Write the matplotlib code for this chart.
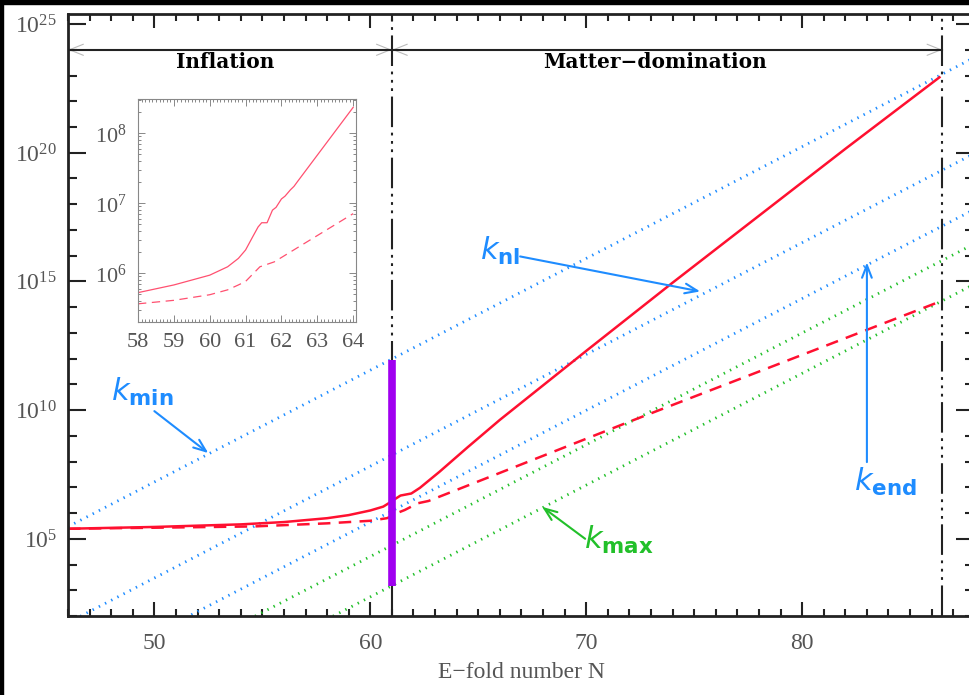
import matplotlib
matplotlib.use('Agg')
import matplotlib.pyplot as plt
import numpy as np
from matplotlib.ticker import FixedLocator, FuncFormatter, MultipleLocator, LogLocator, NullFormatter

plt.rcParams['mathtext.fontset'] = 'custom'
plt.rcParams['mathtext.rm'] = 'Liberation Serif'
plt.rcParams['mathtext.it'] = 'DejaVu Sans:italic'
plt.rcParams['mathtext.bf'] = 'DejaVu Sans:bold'
plt.rcParams['lines.scale_dashes'] = False

# main curves, log10 of the values
N_solid = [46, 50, 54, 56, 58, 59, 60, 60.6, 60.85, 61.1, 61.4, 61.9, 62.3, 63.2, 64.5, 66, 70, 74, 78, 82, 86.36]
logk_solid = [5.39, 5.46, 5.56, 5.65, 5.8, 5.92, 6.1, 6.25, 6.38, 6.52, 6.68, 6.76, 6.98, 7.6, 8.55, 9.62, 12.3, 14.95, 17.55, 20.15, 22.93]

N_dashed = [46, 50, 54.6, 58, 60, 60.77, 61.0, 61.3, 61.6, 62.2, 62.7, 66, 72, 81.4, 86.3]
logk_dashed = [5.39, 5.43, 5.48, 5.6, 5.7, 5.8, 5.88, 6.02, 6.12, 6.38, 6.47, 7.56, 9.55, 12.6, 14.19]

# inset (zoom around the end of inflation)
N_inset_solid = [58, 59, 60, 60.5, 60.8, 61.0, 61.2, 61.35, 61.45, 61.6, 61.75, 61.85, 62.0, 62.1, 62.25, 62.35, 62.45, 64.0]
logk_inset_solid = [5.72, 5.83, 5.97, 6.09, 6.21, 6.33, 6.52, 6.66, 6.72, 6.72, 6.9, 6.94, 7.06, 7.1, 7.19, 7.24, 7.31, 8.37]
N_inset_dashed = [58, 59, 60, 60.5, 60.8, 61.0, 61.4, 61.8, 64.0]
logk_inset_dashed = [5.56, 5.61, 5.69, 5.76, 5.83, 5.88, 6.09, 6.16, 6.85]

# straight reference scales k ~ a, given by the N where they cross 10^2 (log10 e per e-fold)
N_blue0 = [46 - (5.47 - 2) / np.log10(np.e), 46.6, 51.6]
N_green0 = [54.68, 58.29]

N_end_infl = 61.0
N_end_md = 86.5
bar_N = 61.0
bar_logk = [3.18, 11.94]

red = '#ff1030'
blue = '#1e8cff'
green = '#22c02a'
purple = '#a000f0'
gray_txt = '#555555'

fig = plt.figure(figsize=(9.69, 6.95), dpi=100)
ax = fig.add_axes([68 / 969, 79 / 695, 906 / 969, 602 / 695])

xlo, xhi = 46, 87.96
ax.set_xlim(xlo, xhi)
ax.set_yscale('log')
ax.set_ylim(1e2, 10 ** 25.39)

xx = np.array([xlo, xhi])
for n0 in N_blue0:
    ax.plot(xx, 10 ** (2 + (xx - n0) * np.log10(np.e)), color=blue, lw=2, ls=(0, (1, 4)))
for n0 in N_green0:
    ax.plot(xx, 10 ** (2 + (xx - n0) * np.log10(np.e)), color=green, lw=2, ls=(0, (1, 4)))

ax.plot(N_solid, 10 ** np.array(logk_solid), color=red, lw=1.8)
ax.plot(N_dashed, 10 ** np.array(logk_dashed), color=red, lw=1.8, ls=(0, (9, 6)))

ax.plot([bar_N, bar_N], 10 ** np.array(bar_logk), color=purple, lw=5.5, solid_capstyle='butt', zorder=5)

for xv in [N_end_infl, N_end_md]:
    ax.axvline(xv, color='#222222', lw=1.5, ls=(0, (22, 4, 2, 4, 2, 4, 2, 4)), zorder=4)

# phase arrows
for a, b in [(46, N_end_infl), (N_end_infl, N_end_md)]:
    ax.annotate('', xy=(b, 1e24), xytext=(a, 1e24), zorder=2,
                arrowprops=dict(arrowstyle='<->,head_length=1.0,head_width=0.4', color='#bbbbbb',
                                lw=0.8, shrinkA=0, shrinkB=0))
ax.plot([46, N_end_md], [1e24, 1e24], color='#222222', lw=1.5, zorder=6)
ax.text(53.3, 10 ** 23.53, 'Inflation', ha='center', va='center', fontsize=14.5,
        family='DejaVu Serif', weight='bold')
ax.text(73.2, 10 ** 23.53, 'Matter\u2212domination', ha='center', va='center', fontsize=14.5,
        family='DejaVu Serif', weight='bold')

# labels of the scales
def label(txt, pos, start, tip, col):
    ax.text(pos[0], 10 ** pos[1], txt, color=col, fontsize=22, ha='center', va='center')
    ax.annotate('', xy=(tip[0], 10 ** tip[1]), xytext=(start[0], 10 ** start[1]),
                arrowprops=dict(arrowstyle='->,head_length=0.9,head_width=0.35', color=col,
                                lw=1.5, shrinkA=0, shrinkB=0))

label(r'$k_{\mathbf{min}}$', (49.44, 10.70), (50.0, 9.96), (52.5, 8.33), blue)
label(r'$k_{\mathbf{nl}}$', (66.0, 16.2), (66.94, 15.97), (75.28, 14.61), blue)
label(r'$k_{\mathbf{end}}$', (83.84, 7.21), (83.0, 7.98), (83.0, 15.74), blue)
label(r'$k_{\mathbf{max}}$', (71.53, 4.96), (69.95, 5.0), (67.96, 6.24), green)

ax.xaxis.set_major_locator(FixedLocator([50, 60, 70, 80]))
ax.xaxis.set_minor_locator(MultipleLocator(1))
ax.yaxis.set_major_locator(FixedLocator([1e5, 1e10, 1e15, 1e20, 1e25]))
ax.yaxis.set_minor_locator(FixedLocator([10.0 ** k for k in range(2, 26)]))
ax.yaxis.set_minor_formatter(NullFormatter())
ax.yaxis.set_major_formatter(FuncFormatter(lambda v, p: r'$\mathrm{10^{%d}}$' % round(np.log10(v))))
ax.tick_params(which='both', direction='in', top=True, right=True, color='#222222', width=1.5,
               labelcolor=gray_txt, labelsize=17)
ax.tick_params(axis='x', which='major', length=10, pad=12)
ax.tick_params(axis='x', which='minor', length=5)
ax.tick_params(axis='y', which='major', length=13, pad=8)
ax.tick_params(axis='y', which='minor', length=6.5)
for lab in ax.get_xticklabels():
    lab.set_family('Liberation Serif')
for s in ax.spines.values():
    s.set_color('#222222')
    s.set_linewidth(2)
ax.set_xlabel('E\u2212fold number N', family='Liberation Serif', fontsize=17, color=gray_txt, labelpad=6)

# inset
ins = fig.add_axes([138 / 969, 373 / 695, 218 / 969, 223 / 695])
ins.plot(N_inset_solid, 10 ** np.array(logk_inset_solid), color='#ff5070', lw=0.9)
ins.plot(N_inset_dashed, 10 ** np.array(logk_inset_dashed), color='#ff5070', lw=0.9, ls=(0, (6, 4)))
ins.set_xlim(58, 64.08)
ins.set_yscale('log')
ins.set_ylim(10 ** 5.3, 10 ** 8.49)
ins.xaxis.set_major_locator(MultipleLocator(1))
ins.xaxis.set_minor_locator(MultipleLocator(0.1))
ins.yaxis.set_major_locator(FixedLocator([1e6, 1e7, 1e8]))
ins.yaxis.set_minor_locator(LogLocator(base=10, subs=np.arange(2, 10) * 1.0))
ins.yaxis.set_minor_formatter(NullFormatter())
ins.yaxis.set_major_formatter(FuncFormatter(lambda v, p: r'$\mathrm{10^{%d}}$' % round(np.log10(v))))
ins.tick_params(which='both', direction='in', top=True, right=True, color='#888888', width=0.7,
                labelcolor=gray_txt, labelsize=16)
ins.tick_params(which='major', length=5, pad=8)
ins.tick_params(which='minor', length=2.5)
for lab in ins.get_xticklabels():
    lab.set_family('Liberation Serif')
for s in ins.spines.values():
    s.set_color('#888888')
    s.set_linewidth(0.8)

# dark frame along the left and top edge of the picture
fig.patches.append(plt.Rectangle((0, 0), 3 / 969, 1, transform=fig.transFigure, color='black', zorder=10))
fig.patches.append(plt.Rectangle((0, 1 - 4 / 695), 1, 4 / 695, transform=fig.transFigure, color='black', zorder=10))

fig.savefig('out.png', dpi=100)
